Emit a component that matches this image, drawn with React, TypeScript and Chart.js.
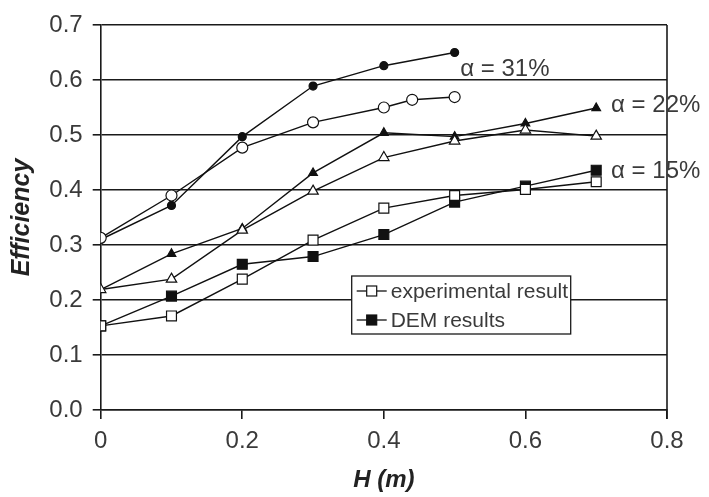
import React, { useEffect, useRef } from "react";
import { Chart, registerables } from "chart.js";

Chart.register(...registerables);

// ---- data ----
const H_31_EXP = [0, 0.1, 0.2, 0.3, 0.4, 0.44, 0.5];
const EFF_31_EXP = [0.313, 0.39, 0.477, 0.523, 0.55, 0.564, 0.569];
const H_31_DEM = [0, 0.1, 0.2, 0.3, 0.4, 0.5];
const EFF_31_DEM = [0.31, 0.372, 0.497, 0.589, 0.626, 0.65];
const H_FULL = [0, 0.1, 0.2, 0.3, 0.4, 0.5, 0.6, 0.7];
const EFF_22_EXP = [0.219, 0.238, 0.327, 0.398, 0.459, 0.489, 0.509, 0.498];
const EFF_22_DEM = [0.219, 0.284, 0.33, 0.431, 0.504, 0.497, 0.521, 0.549];
const EFF_15_EXP = [0.153, 0.171, 0.238, 0.309, 0.367, 0.39, 0.401, 0.415];
const EFF_15_DEM = [0.153, 0.207, 0.265, 0.279, 0.319, 0.378, 0.407, 0.436];

const ALPHA_LABELS = ["α = 31%", "α = 22%", "α = 15%"];
const ALPHA_POS_H = [0.508, 0.721, 0.721];
const ALPHA_POS_EFF = [0.62, 0.5545, 0.4336];

const LEGEND_LABELS = ["experimental result", "DEM results"];
const X_TITLE = "H (m)";
const Y_TITLE = "Efficiency";

const FONT = "'Liberation Sans', Arial, Helvetica, sans-serif";
const TEXT = "#3a3a3a";
const GRID = "#1a1a1a";

const pts = (xs: number[], ys: number[]) => xs.map((x, i) => ({ x, y: ys[i] }));

const mk = (label: string, data: any[], style: string, filled: boolean, r: number) => ({
  label,
  data,
  borderColor: "#111",
  borderWidth: 1.4,
  pointStyle: style,
  pointRadius: r,
  pointBorderWidth: 1.2,
  pointBorderColor: "#111",
  pointBackgroundColor: filled ? "#111" : "#ffffff",
  tension: 0,
  fill: false,
});

const overlayPlugin = {
  id: "overlay",
  afterDatasetsDraw(chart: any) {
    const { ctx, chartArea, scales } = chart;
    ctx.save();
    // right border
    ctx.strokeStyle = GRID;
    ctx.lineWidth = 1.6;
    ctx.beginPath();
    ctx.moveTo(chartArea.right, chartArea.top);
    ctx.lineTo(chartArea.right, chartArea.bottom + 9);
    ctx.stroke();

    // alpha labels
    ctx.fillStyle = TEXT;
    ctx.font = `24px ${FONT}`;
    ctx.textAlign = "left";
    ctx.textBaseline = "middle";
    ALPHA_LABELS.forEach((t, i) => {
      const x = scales.x.getPixelForValue(ALPHA_POS_H[i]);
      const y = scales.y.getPixelForValue(ALPHA_POS_EFF[i]);
      ctx.fillText(t, x, y);
    });

    // legend box
    const bx = chartArea.left + 251;
    const by = chartArea.top + 251;
    const bw = 219;
    const bh = 58;
    ctx.fillStyle = "#ffffff";
    ctx.fillRect(bx, by, bw, bh);
    ctx.strokeStyle = GRID;
    ctx.lineWidth = 1.3;
    ctx.strokeRect(bx, by, bw, bh);
    ctx.font = `21px ${FONT}`;
    LEGEND_LABELS.forEach((t, i) => {
      const cy = by + 15 + i * 29;
      ctx.strokeStyle = "#111";
      ctx.lineWidth = 1.3;
      ctx.beginPath();
      ctx.moveTo(bx + 5, cy);
      ctx.lineTo(bx + 35, cy);
      ctx.stroke();
      ctx.fillStyle = i === 0 ? "#ffffff" : "#111";
      ctx.fillRect(bx + 15, cy - 5, 10, 10);
      ctx.lineWidth = 1.2;
      ctx.strokeRect(bx + 15, cy - 5, 10, 10);
      ctx.fillStyle = TEXT;
      ctx.textAlign = "left";
      ctx.textBaseline = "middle";
      ctx.fillText(t, bx + 39, cy + 1);
    });
    ctx.restore();
  },
};

export default function App() {
  const ref = useRef<HTMLCanvasElement | null>(null);

  useEffect(() => {
    if (!ref.current) return;
    const chart = new Chart(ref.current, {
      type: "line",
      data: {
        datasets: [
          mk("31% exp", pts(H_31_EXP, EFF_31_EXP), "circle", false, 5.5),
          mk("31% DEM", pts(H_31_DEM, EFF_31_DEM), "circle", true, 4),
          mk("22% exp", pts(H_FULL, EFF_22_EXP), "triangle", false, 6),
          mk("22% DEM", pts(H_FULL, EFF_22_DEM), "triangle", true, 5),
          mk("15% exp", pts(H_FULL, EFF_15_EXP), "rect", false, 7),
          mk("15% DEM", pts(H_FULL, EFF_15_DEM), "rect", true, 7),
        ],
      },
      options: {
        responsive: false,
        animation: false,
        layout: { padding: { top: 25, right: 42, left: 0, bottom: 0 } },
        plugins: {
          legend: { display: false },
          tooltip: { enabled: false },
        },
        scales: {
          x: {
            type: "linear",
            min: 0,
            max: 0.8,
            afterFit: (s: any) => {
              s.height = 87;
            },
            ticks: {
              stepSize: 0.2,
              padding: 8,
              color: TEXT,
              font: { family: FONT, size: 24 },
              callback: (v: any) => (Number(v) === 0 ? "0" : Number(v).toFixed(1)),
            },
            grid: {
              drawOnChartArea: false,
              drawTicks: true,
              tickLength: 9,
              color: GRID,
              lineWidth: 1.6,
            },
            border: { display: true, color: GRID, width: 1.6 },
            title: {
              display: true,
              text: X_TITLE,
              color: "#222",
              font: { family: FONT, size: 24, weight: "bold", style: "italic" },
              padding: { top: 0, bottom: 2 },
            },
          },
          y: {
            min: 0,
            max: 0.7,
            afterFit: (s: any) => {
              s.width = 100.7;
            },
            ticks: {
              stepSize: 0.1,
              padding: 10,
              color: TEXT,
              font: { family: FONT, size: 24 },
              callback: (v: any) => Number(v).toFixed(1),
            },
            grid: {
              drawOnChartArea: true,
              drawTicks: true,
              tickLength: 8,
              color: GRID,
              lineWidth: 1.6,
            },
            border: { display: true, color: GRID, width: 1.6 },
            title: {
              display: true,
              text: Y_TITLE,
              color: "#222",
              font: { family: FONT, size: 25, weight: "bold", style: "italic" },
              padding: { top: 7, bottom: 0 },
            },
          },
        },
      },
      plugins: [overlayPlugin],
    } as any);
    return () => chart.destroy();
  }, []);

  return (
    <div style={{ position: "fixed", left: 0, top: 0, width: 709, height: 497, background: "#fff" }}>
      <canvas ref={ref} width={709} height={497} style={{ display: "block" }} />
    </div>
  );
}
